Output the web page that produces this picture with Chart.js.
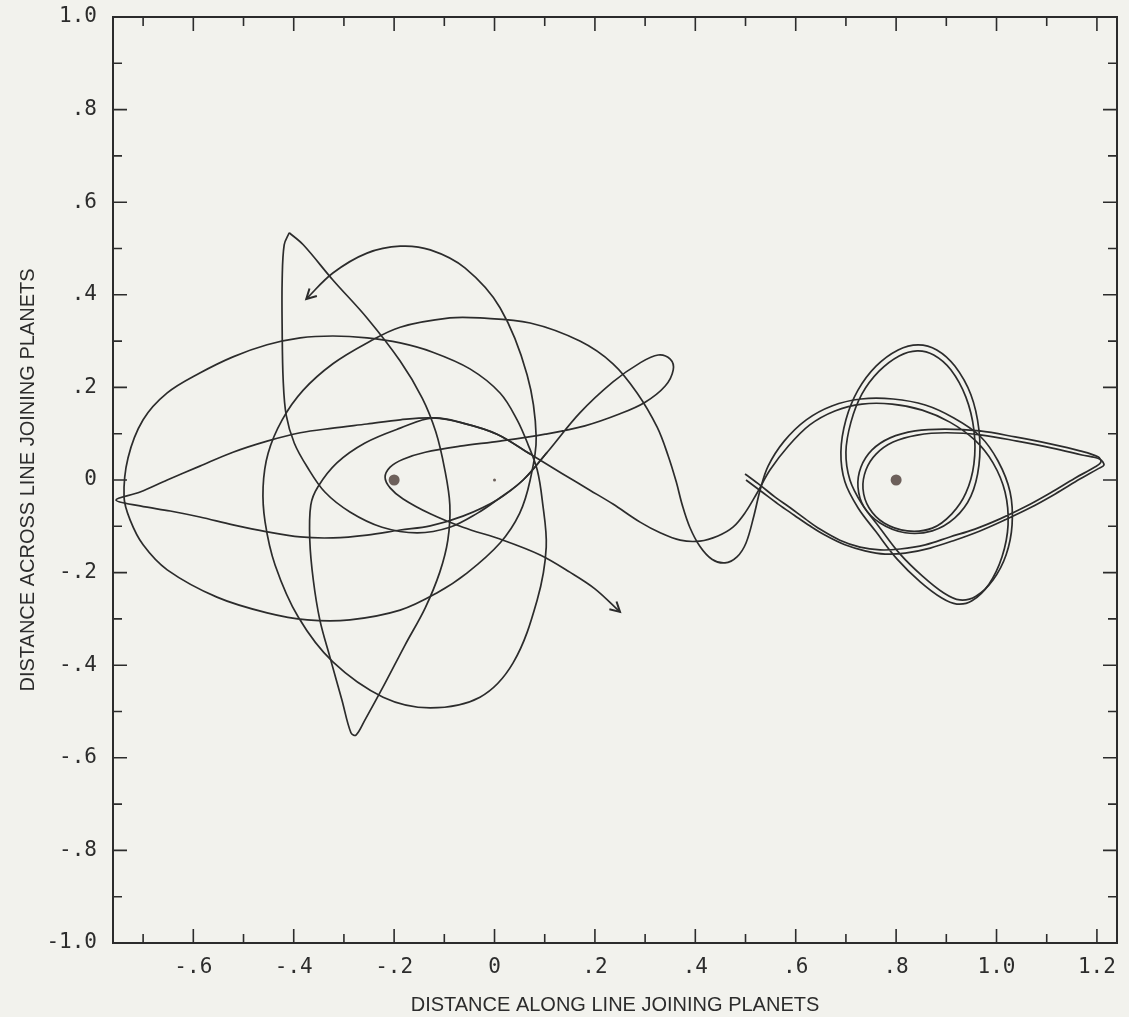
<!DOCTYPE html>
<html>
<head>
<meta charset="utf-8">
<script src="https://cdn.jsdelivr.net/npm/chart.js@4.4.1/dist/chart.umd.min.js"></script>
<style>
  html, body { margin: 0; padding: 0; background: #f2f2ed; }
  #orbitChart { display: block; }
</style>
</head>
<body>
<canvas id="orbitChart" width="1129" height="1017"></canvas>
<script>
// DATA -------------------------------------------------------------

// planets (and the barycentre) on the line joining them
const bodyX = [-0.2, 0.0, 0.8];
const bodyY = [0.0, 0.0, 0.0];
const bodyRadius = [5.5, 1.5, 5.5];

// first trajectory: loops the right planet, runs left, ends at the arrow below the centre
const orbit1X = [
  0.499, 0.529, 0.559, 0.589, 0.619, 0.648, 0.688, 0.728, 0.768, 0.808, 0.858, 0.907, 0.957, 1.007,
  1.057, 1.107, 1.156, 1.196, 1.208, 1.202, 1.166, 1.107, 1.037, 0.967, 0.897, 0.838, 0.788, 0.752,
  0.730, 0.724, 0.736, 0.768, 0.818, 0.872, 0.917, 0.949, 0.965, 0.965, 0.949, 0.917, 0.881, 0.844,
  0.804, 0.760, 0.724, 0.700, 0.690, 0.698, 0.724, 0.760, 0.802, 0.848, 0.891, 0.921, 0.951, 0.985,
  1.011, 1.023, 1.017, 0.993, 0.957, 0.907, 0.852, 0.792, 0.732, 0.678, 0.628, 0.585, 0.549, 0.523,
  0.499, 0.475, 0.445, 0.409, 0.370, 0.330, 0.290, 0.236, 0.190, 0.136, 0.071, 0.005, -0.063, -0.123,
  -0.188, -0.254, -0.322, -0.387, -0.453, -0.521, -0.587, -0.652, -0.706, -0.754, -0.706, -0.646,
  -0.587, -0.521, -0.453, -0.387, -0.322, -0.254, -0.188, -0.128, -0.063, 0.005, 0.057, 0.105, 0.170,
  0.236, 0.290, 0.326, 0.350, 0.356, 0.340, 0.300, 0.250, 0.180, 0.101, 0.011, -0.069, -0.138, -0.182,
  -0.208, -0.218, -0.208, -0.182, -0.128, -0.063, 0.017, 0.091, 0.150, 0.200, 0.250
];
const orbit1Y = [
  0.013, -0.011, -0.037, -0.060, -0.084, -0.106, -0.130, -0.145, -0.151, -0.149, -0.140, -0.123, -0.106,
  -0.084, -0.058, -0.028, 0.004, 0.028, 0.039, 0.050, 0.063, 0.078, 0.093, 0.106, 0.110, 0.106, 0.091,
  0.065, 0.028, -0.015, -0.058, -0.093, -0.114, -0.110, -0.082, -0.035, 0.032, 0.108, 0.184, 0.246,
  0.281, 0.292, 0.281, 0.246, 0.194, 0.130, 0.060, -0.004, -0.060, -0.112, -0.171, -0.220, -0.255,
  -0.268, -0.261, -0.225, -0.166, -0.097, -0.026, 0.037, 0.086, 0.125, 0.151, 0.164, 0.164, 0.149,
  0.119, 0.073, 0.022, -0.028, -0.071, -0.102, -0.121, -0.132, -0.130, -0.114, -0.091, -0.052, -0.022,
  0.013, 0.056, 0.099, 0.123, 0.134, 0.130, 0.121, 0.112, 0.102, 0.084, 0.060, 0.030, 0.000, -0.026,
  -0.043, -0.056, -0.067, -0.080, -0.097, -0.112, -0.123, -0.125, -0.119, -0.108, -0.099, -0.078,
  -0.043, 0.000, 0.060, 0.145, 0.212, 0.253, 0.270, 0.261, 0.238, 0.203, 0.168, 0.143, 0.117, 0.099,
  0.084, 0.073, 0.060, 0.045, 0.028, 0.006, -0.017, -0.041, -0.073, -0.102, -0.130, -0.162, -0.199,
  -0.235, -0.285
];

// second trajectory: same start, leaves by the deeper dip, swings round the left planet
// twice (the wide loop reaches the left edge) and ends at the upper-left arrow
const orbit2X = [
  0.501, 0.533, 0.565, 0.597, 0.628, 0.658, 0.698, 0.738, 0.778, 0.818, 0.868, 0.917, 0.967, 1.017,
  1.067, 1.117, 1.166, 1.202, 1.214, 1.206, 1.170, 1.111, 1.041, 0.971, 0.901, 0.842, 0.794, 0.760,
  0.740, 0.734, 0.746, 0.776, 0.822, 0.872, 0.911, 0.939, 0.955, 0.955, 0.939, 0.909, 0.875, 0.842,
  0.806, 0.766, 0.732, 0.710, 0.700, 0.708, 0.732, 0.768, 0.808, 0.852, 0.895, 0.927, 0.959, 0.993,
  1.019, 1.031, 1.027, 1.003, 0.967, 0.915, 0.858, 0.794, 0.730, 0.672, 0.621, 0.577, 0.545, 0.529,
  0.517, 0.501, 0.483, 0.459, 0.433, 0.409, 0.389, 0.374, 0.362, 0.346, 0.324, 0.284, 0.236, 0.170,
  0.071, -0.029, -0.089, -0.188, -0.254, -0.322, -0.381, -0.423, -0.451, -0.461, -0.457, -0.437,
  -0.391, -0.322, -0.222, -0.128, -0.029, 0.037, 0.085, 0.103, 0.095, 0.085, 0.067, 0.045, 0.011,
  -0.049, -0.123, -0.188, -0.254, -0.322, -0.387, -0.453, -0.521, -0.587, -0.652, -0.700, -0.730,
  -0.738, -0.726, -0.700, -0.652, -0.553, -0.453, -0.373, -0.288, -0.188, -0.115, -0.055, 0.011,
  0.050, 0.071, 0.083, 0.065, 0.011, -0.059, -0.128, -0.188, -0.254, -0.322, -0.375
];
const orbit2Y = [
  0.000, -0.026, -0.052, -0.076, -0.099, -0.119, -0.140, -0.153, -0.160, -0.158, -0.147, -0.130, -0.110,
  -0.086, -0.060, -0.030, 0.002, 0.024, 0.032, 0.045, 0.054, 0.069, 0.084, 0.097, 0.102, 0.097, 0.082,
  0.056, 0.022, -0.019, -0.060, -0.093, -0.110, -0.104, -0.073, -0.028, 0.035, 0.108, 0.179, 0.238,
  0.270, 0.279, 0.268, 0.235, 0.186, 0.125, 0.060, 0.000, -0.052, -0.104, -0.160, -0.207, -0.244,
  -0.259, -0.251, -0.216, -0.162, -0.097, -0.026, 0.041, 0.095, 0.134, 0.162, 0.175, 0.175, 0.160,
  0.130, 0.084, 0.030, -0.022, -0.076, -0.136, -0.166, -0.179, -0.171, -0.143, -0.102, -0.054, -0.004,
  0.052, 0.114, 0.188, 0.251, 0.300, 0.339, 0.350, 0.350, 0.330, 0.296, 0.251, 0.194, 0.130, 0.058,
  -0.015, -0.091, -0.184, -0.296, -0.393, -0.469, -0.492, -0.469, -0.395, -0.259, -0.145, -0.043,
  0.022, 0.076, 0.130, 0.188, 0.240, 0.276, 0.296, 0.307, 0.311, 0.307, 0.292, 0.266, 0.231, 0.188,
  0.130, 0.048, -0.037, -0.086, -0.140, -0.194, -0.253, -0.287, -0.302, -0.302, -0.281, -0.244, -0.201,
  -0.136, -0.072, 0.000, 0.093, 0.227, 0.372, 0.458, 0.497, 0.505, 0.490, 0.447, 0.391
];

// pointed loop from the upper cusp down to the lower cusp, back over the planet into the first orbit
const loopCuspX = [
  -0.409, -0.381, -0.322, -0.254, -0.188, -0.144, -0.117, -0.099, -0.089, -0.093, -0.109, -0.138,
  -0.178, -0.222, -0.258, -0.276, -0.286, -0.304, -0.328, -0.348, -0.361, -0.368, -0.366, -0.352,
  -0.314, -0.258, -0.188, -0.123, -0.063, 0.005, 0.071
];
const loopCuspY = [
  0.534, 0.508, 0.432, 0.350, 0.257, 0.177, 0.104, 0.022, -0.054, -0.130, -0.199, -0.276, -0.356,
  -0.447, -0.518, -0.551, -0.546, -0.475, -0.382, -0.302, -0.216, -0.130, -0.054, -0.015, 0.037, 0.080,
  0.112, 0.134, 0.123, 0.099, 0.056
];

// left side of the upper cusp, bending under the planet and up towards the small loop
const cuspSideX = [
  -0.409, -0.419, -0.423, -0.423, -0.421, -0.415, -0.399, -0.373, -0.338, -0.288, -0.224, -0.154,
  -0.089, -0.033, 0.005, 0.057, 0.105
];
const cuspSideY = [
  0.534, 0.508, 0.432, 0.324, 0.216, 0.140, 0.080, 0.028, -0.026, -0.069, -0.102, -0.114, -0.102, -0.071,
  -0.043, 0.000, 0.060
];

// axis ticks
const xTickValues = [-0.6, -0.4, -0.2, 0, 0.2, 0.4, 0.6, 0.8, 1.0, 1.2];
const yTickValues = [-1.0, -0.8, -0.6, -0.4, -0.2, 0, 0.2, 0.4, 0.6, 0.8, 1.0];
const xMinorTicks = [-0.7, -0.6, -0.5, -0.4, -0.3, -0.2, -0.1, 0, 0.1, 0.2, 0.3, 0.4, 0.5, 0.6, 0.7, 0.8, 0.9, 1.0, 1.1, 1.2];
const yMinorTicks = [-0.9, -0.8, -0.7, -0.6, -0.5, -0.4, -0.3, -0.2, -0.1, 0, 0.1, 0.2, 0.3, 0.4, 0.5, 0.6, 0.7, 0.8, 0.9];

// CHART -------------------------------------------------------------

const INK = "#2c2c2c";
const PAPER = "#f2f2ed";

/**
 * Zips two value lists into {x, y} points for a scatter dataset.
 */
function toPoints(xs, ys) {
  return xs.map((x, i) => ({ x: x, y: ys[i] }));
}

/**
 * Formats a tick the way the old plotter did: no leading zero, "0" for zero.
 */
function plotterLabel(value) {
  if (Math.abs(value) < 1e-9) {
    return "0";
  }
  return value.toFixed(1).replace(/^(-?)0\./, "$1.");
}

function orbitDataset(xs, ys, arrow) {
  return {
    type: "line",
    data: toPoints(xs, ys),
    borderColor: INK,
    borderWidth: 1.7,
    pointRadius: 0,
    tension: 0.35,
    fill: false,
    arrow: arrow,
  };
}

// paper background
const paperPlugin = {
  id: "paper",
  beforeDraw(chart) {
    const ctx = chart.ctx;
    ctx.save();
    ctx.fillStyle = PAPER;
    ctx.fillRect(0, 0, chart.width, chart.height);
    ctx.restore();
  },
};

// frame with inward ticks on all four sides, plus arrow heads on the orbit ends
const framePlugin = {
  id: "frame",
  afterDatasetsDraw(chart) {
    const ctx = chart.ctx;
    const area = chart.chartArea;
    const xs = chart.scales.x;
    const ys = chart.scales.y;
    ctx.save();
    ctx.strokeStyle = INK;
    ctx.lineWidth = 2;
    ctx.strokeRect(area.left, area.top, area.right - area.left, area.bottom - area.top);

    ctx.lineWidth = 1.6;
    ctx.beginPath();
    xMinorTicks.forEach((v) => {
      const len = Math.round(v * 10) % 2 === 0 ? 14 : 9;
      const px = xs.getPixelForValue(v);
      ctx.moveTo(px, area.bottom);
      ctx.lineTo(px, area.bottom - len);
      ctx.moveTo(px, area.top);
      ctx.lineTo(px, area.top + len);
    });
    yMinorTicks.forEach((v) => {
      const len = Math.round(v * 10) % 2 === 0 ? 14 : 9;
      const py = ys.getPixelForValue(v);
      ctx.moveTo(area.left, py);
      ctx.lineTo(area.left + len, py);
      ctx.moveTo(area.right, py);
      ctx.lineTo(area.right - len, py);
    });
    ctx.stroke();

    // arrow heads at the end of the flagged trajectories
    chart.data.datasets.forEach((ds, i) => {
      if (!ds.arrow) return;
      const pts = chart.getDatasetMeta(i).data;
      const a = pts[pts.length - 2];
      const b = pts[pts.length - 1];
      const ang = Math.atan2(b.y - a.y, b.x - a.x);
      const len = 11;
      ctx.beginPath();
      ctx.lineWidth = 2;
      ctx.moveTo(b.x - len * Math.cos(ang - 0.5), b.y - len * Math.sin(ang - 0.5));
      ctx.lineTo(b.x, b.y);
      ctx.lineTo(b.x - len * Math.cos(ang + 0.5), b.y - len * Math.sin(ang + 0.5));
      ctx.stroke();
    });
    ctx.restore();
  },
};

const tickFont = { family: "'DejaVu Sans Mono', monospace", size: 21 };
const titleFont = { family: "'Liberation Sans', Arial, sans-serif", size: 20 };

new Chart(document.getElementById("orbitChart"), {
  type: "scatter",
  data: {
    datasets: [
      orbitDataset(orbit1X, orbit1Y, true),
      orbitDataset(orbit2X, orbit2Y, true),
      orbitDataset(loopCuspX, loopCuspY, false),
      orbitDataset(cuspSideX, cuspSideY, false),
      {
        type: "scatter",
        data: toPoints(bodyX, bodyY),
        pointRadius: bodyRadius,
        pointBackgroundColor: "#6d605b",
        pointBorderWidth: 0,
      },
    ],
  },
  options: {
    responsive: false,
    animation: false,
    layout: { padding: { top: 17, right: 12, left: 0, bottom: 0 } },
    plugins: {
      legend: { display: false },
      tooltip: { enabled: false },
    },
    scales: {
      x: {
        type: "linear",
        min: -0.76,
        max: 1.24,
        grid: { display: false, drawTicks: false },
        border: { display: false },
        afterBuildTicks: (scale) => {
          scale.ticks = xTickValues.map((v) => ({ value: v }));
        },
        afterFit: (scale) => {
          scale.height = 74;
          scale.paddingLeft = 0;
          scale.paddingRight = 0;
        },
        ticks: {
          font: tickFont,
          color: INK,
          padding: 12,
          maxRotation: 0,
          autoSkip: false,
          callback: (v) => plotterLabel(v),
        },
        title: {
          display: true,
          text: "DISTANCE ALONG LINE JOINING PLANETS",
          font: titleFont,
          color: INK,
          padding: { top: 0, bottom: 0 },
        },
      },
      y: {
        type: "linear",
        min: -1,
        max: 1,
        grid: { display: false, drawTicks: false },
        border: { display: false },
        afterBuildTicks: (scale) => {
          scale.ticks = yTickValues.map((v) => ({ value: v }));
        },
        afterFit: (scale) => {
          scale.width = 113;
          scale.paddingTop = 0;
          scale.paddingBottom = 0;
        },
        ticks: {
          font: tickFont,
          color: INK,
          padding: 16,
          autoSkip: false,
          callback: (v) => plotterLabel(v),
        },
        title: {
          display: true,
          text: "DISTANCE ACROSS LINE JOINING PLANETS",
          font: titleFont,
          color: INK,
          padding: { top: 16, bottom: 0 },
        },
      },
    },
  },
  plugins: [paperPlugin, framePlugin],
});
</script>
</body>
</html>
